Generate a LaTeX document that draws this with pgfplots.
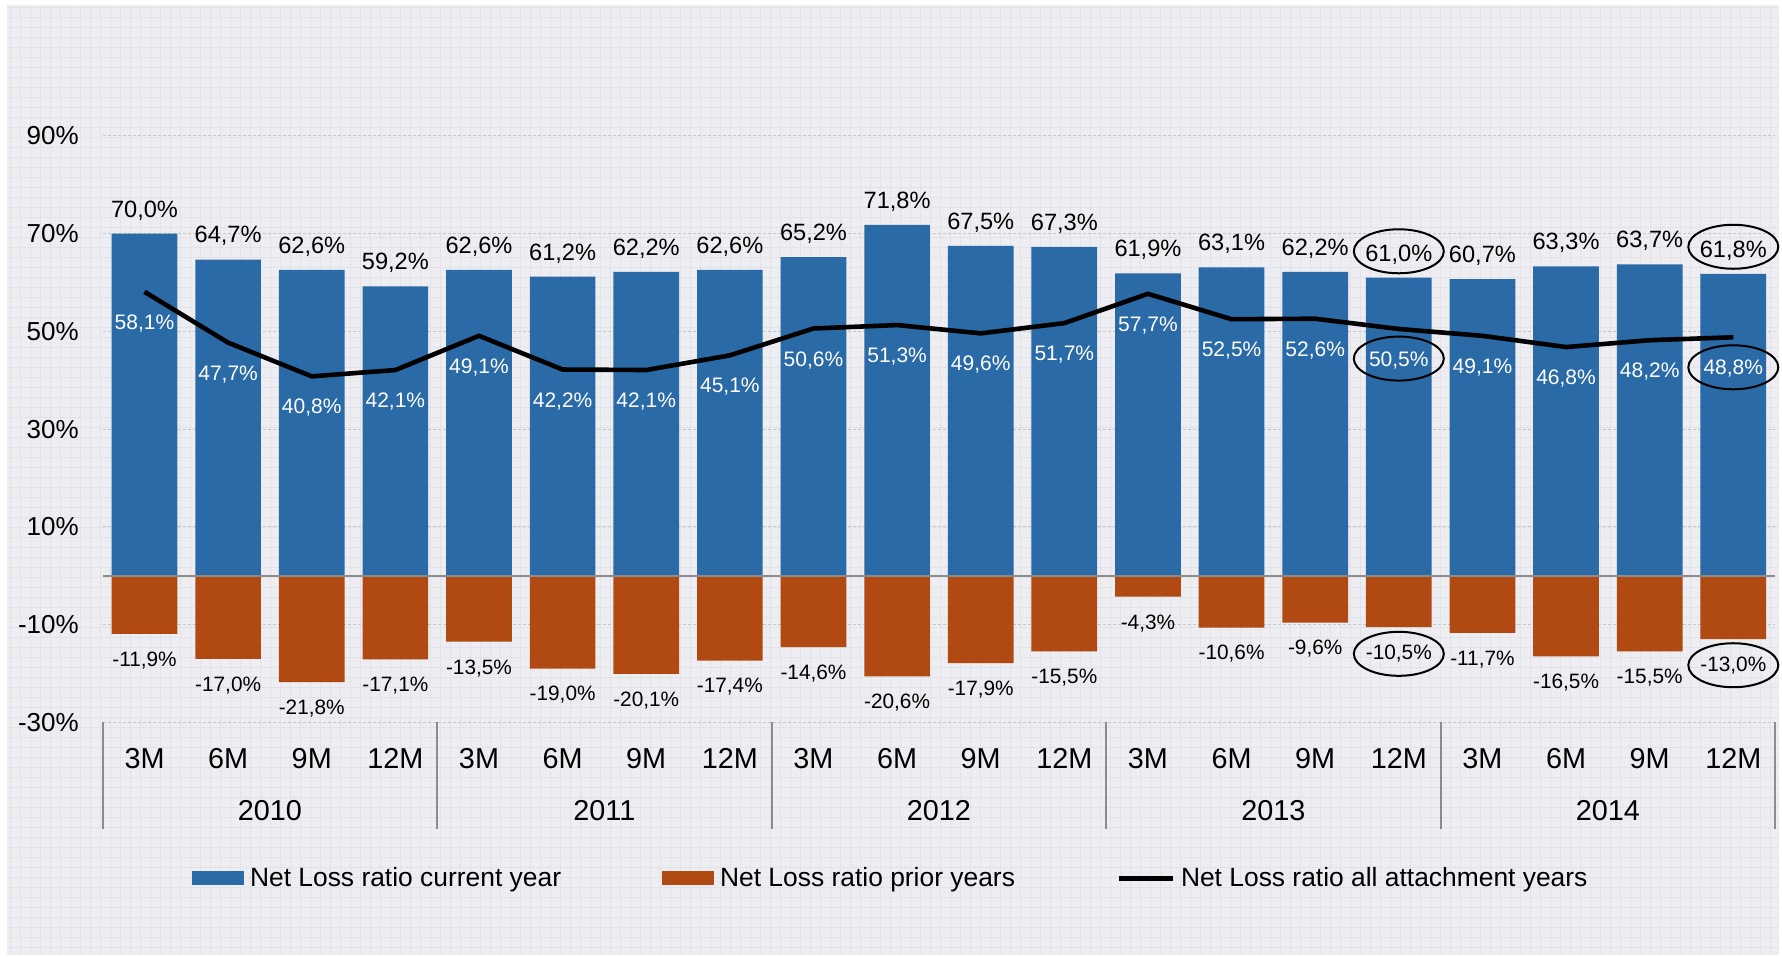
\documentclass[border=0pt]{standalone}
\usepackage{fontspec}
\setmainfont{Liberation Sans}
\usepackage{pgfplots}
\usepackage{pgfplotstable}
\pgfplotsset{compat=1.18}

\definecolor{bgcol}{RGB}{237,237,242}
\definecolor{papercol}{RGB}{226,226,233}
\definecolor{curblue}{RGB}{41,106,167}
\definecolor{priorred}{RGB}{177,74,18}
\definecolor{sepgray}{RGB}{140,140,140}

% x  current  prior  all
\pgfplotstableread{
x cur prior all
0  70.0 -11.9 58.1
1  64.7 -17.0 47.7
2  62.6 -21.8 40.8
3  59.2 -17.1 42.1
4  62.6 -13.5 49.1
5  61.2 -19.0 42.2
6  62.2 -20.1 42.1
7  62.6 -17.4 45.1
8  65.2 -14.6 50.6
9  71.8 -20.6 51.3
10 67.5 -17.9 49.6
11 67.3 -15.5 51.7
12 61.9 -4.3  57.7
13 63.1 -10.6 52.5
14 62.2 -9.6  52.6
15 61.0 -10.5 50.5
16 60.7 -11.7 49.1
17 63.3 -16.5 46.8
18 63.7 -15.5 48.2
19 61.8 -13.0 48.8
}\data

\newcommand{\pct}{\pgfmathprintnumber[fixed,fixed zerofill,precision=1,use comma]{\pgfplotspointmeta}\%}

\begin{document}
\begin{tikzpicture}
\useasboundingbox (0,0) rectangle (891pt,478.5pt);
\fill[bgcol] (3.5pt,1pt) rectangle (889.5pt,476pt);
\draw[papercol, line width=0.4pt, step=5pt] (3.5pt,1pt) grid (889.5pt,476pt);

\begin{axis}[
    at={(51.35pt,117.35pt)}, anchor=south west,
    scale only axis, width=836.2pt, height=293.15pt,
    xmin=-0.5, xmax=19.5, ymin=-30, ymax=90,
    clip=false,
    axis line style={draw=none},
    major tick length=0pt,
    xtick={0,...,19},
    xticklabels={3M,6M,9M,12M,3M,6M,9M,12M,3M,6M,9M,12M,3M,6M,9M,12M,3M,6M,9M,12M},
    xticklabel style={font=\fontsize{14.4}{15}\selectfont, anchor=base, inner sep=0pt, yshift=-23pt},
    ytick={-30,-10,10,30,50,70,90},
    yticklabel={\pgfmathprintnumber{\tick}\%},
    yticklabel style={font=\fontsize{13}{14}\selectfont, anchor=east, inner sep=0pt, xshift=-11.8pt},
    /pgf/number format/assume math mode=true,
    ymajorgrids,
    major grid style={gray!45, line width=0.5pt, dash pattern=on 1.5pt off 1pt},
    legend style={at={(0.4718,-0.2656)}, anchor=center, draw=none, fill=none,
        legend columns=3, inner sep=0pt,
        font=\fontsize{13.2}{14}\selectfont,
        /tikz/every even column/.append style={column sep=48.5pt},
        /tikz/every odd column/.append style={column sep=1pt}},
    legend cell align=left,
]
\addplot[ybar, bar width=32.85pt, bar shift=0pt, fill=curblue, draw=none,
    nodes near coords={\pct},
    every node near coord/.append style={font=\fontsize{11.8}{12}\selectfont, black, inner sep=0pt, yshift=6.6pt},
    legend image code/.code={\fill[curblue] (0pt,-3.6pt) rectangle (26pt,3.6pt);}]
    table[x=x, y=cur] {\data};
\addlegendentry{Net Loss ratio current year}

\addplot[ybar, bar width=32.85pt, bar shift=0pt, fill=priorred, draw=none,
    nodes near coords={\pct},
    every node near coord/.append style={font=\fontsize{10.4}{11}\selectfont, black, inner sep=0pt, yshift=-8.7pt},
    legend image code/.code={\fill[priorred] (0pt,-3.6pt) rectangle (26pt,3.6pt);}]
    table[x=x, y=prior] {\data};
\addlegendentry{Net Loss ratio prior years}

\draw[sepgray, line width=1pt] (axis cs:-0.5,0) -- (axis cs:19.5,0);

\addplot[black, line width=2.3pt, mark=none,
    nodes near coords={\pct},
    every node near coord/.append style={font=\fontsize{10.5}{11}\selectfont, white, inner sep=0pt, yshift=-21.3pt},
    legend image code/.code={\draw[black, line width=2.5pt] (0pt,0pt) -- (27pt,0pt);}]
    table[x=x, y=all] {\data};
\addlegendentry{Net Loss ratio all attachment years}

% group separators
\pgfplotsinvokeforeach{-0.5,3.5,7.5,11.5,15.5,19.5}{
    \draw[sepgray, line width=1pt] (axis cs:#1,-30) -- ([yshift=-53.3pt]axis cs:#1,-30);
}
% year labels
\node[anchor=base, inner sep=0pt, font=\fontsize{14.4}{15}\selectfont] at ([yshift=-49.2pt]axis cs:1.5,-30) {2010};
\node[anchor=base, inner sep=0pt, font=\fontsize{14.4}{15}\selectfont] at ([yshift=-49.2pt]axis cs:5.5,-30) {2011};
\node[anchor=base, inner sep=0pt, font=\fontsize{14.4}{15}\selectfont] at ([yshift=-49.2pt]axis cs:9.5,-30) {2012};
\node[anchor=base, inner sep=0pt, font=\fontsize{14.4}{15}\selectfont] at ([yshift=-49.2pt]axis cs:13.5,-30) {2013};
\node[anchor=base, inner sep=0pt, font=\fontsize{14.4}{15}\selectfont] at ([yshift=-49.2pt]axis cs:17.5,-30) {2014};

% highlight ellipses
\draw[black, line width=1pt] ([yshift=13.2pt]axis cs:15,61.0) ellipse [x radius=22.5pt, y radius=11pt];
\draw[black, line width=1pt] ([yshift=-14.8pt]axis cs:15,50.5) ellipse [x radius=22.5pt, y radius=11pt];
\draw[black, line width=1pt] ([yshift=-13.4pt]axis cs:15,-10.5) ellipse [x radius=22.5pt, y radius=11pt];
\draw[black, line width=1pt] ([yshift=13.5pt]axis cs:19,61.8) ellipse [x radius=22.5pt, y radius=11pt];
\draw[black, line width=1pt] ([yshift=-15pt]axis cs:19,48.8) ellipse [x radius=22.5pt, y radius=11pt];
\draw[black, line width=1pt] ([yshift=-13pt]axis cs:19,-13.0) ellipse [x radius=22.5pt, y radius=11pt];
\end{axis}
\end{tikzpicture}
\end{document}
